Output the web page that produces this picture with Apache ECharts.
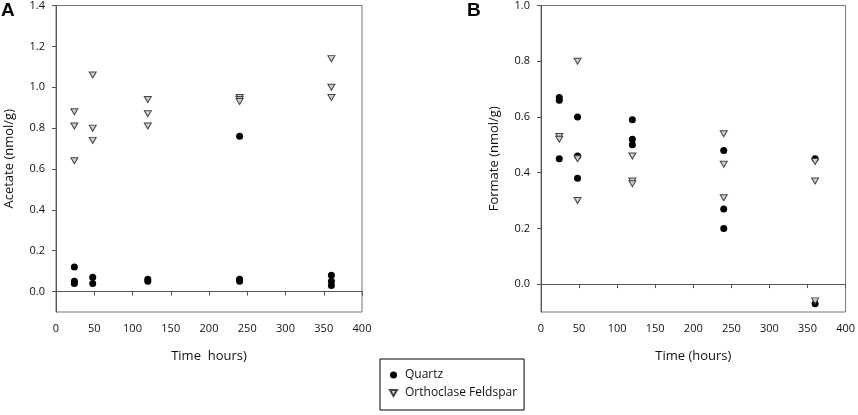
<!DOCTYPE html>
<html>
<head>
<meta charset="utf-8">
<script src="https://cdn.jsdelivr.net/npm/echarts@6/dist/echarts.min.js"></script>
<style>
html,body{margin:0;padding:0;background:#fff;}
#chart{width:858px;height:415px;}
</style>
</head>
<body>
<div id="chart"></div>
<script>
// Sampling times (hours)
const times = [24, 48, 120, 240, 360];
// Panel A: Acetate (nmol/g), replicate values per time
const acetateQuartz = [[0.12, 0.05, 0.04], [0.07, 0.04], [0.06, 0.05], [0.76, 0.06, 0.05], [0.08, 0.05, 0.03]];
const acetateFeldspar = [[0.88, 0.81, 0.64], [1.06, 0.80, 0.74], [0.94, 0.87, 0.81], [0.95, 0.94, 0.93], [1.14, 1.00, 0.95]];
// Panel B: Formate (nmol/g)
const formateQuartz = [[0.67, 0.66, 0.45], [0.60, 0.46, 0.38], [0.59, 0.52, 0.50], [0.48, 0.27, 0.20], [0.45, -0.07]];
const formateFeldspar = [[0.53, 0.52], [0.80, 0.45, 0.30], [0.46, 0.37, 0.36], [0.54, 0.43, 0.31], [0.44, 0.37, -0.06]];
// Tick labels
const xTicks = [0, 50, 100, 150, 200, 250, 300, 350, 400];
const acetateTicks = [0.0, 0.2, 0.4, 0.6, 0.8, 1.0, 1.2, 1.4];
const formateTicks = [0.0, 0.2, 0.4, 0.6, 0.8, 1.0];
const seriesNames = ['Quartz', 'Orthoclase Feldspar'];
const xTitles = ['Time  hours)', 'Time (hours)'];
const yTitles = ['Acetate (nmol/g)', 'Formate (nmol/g)'];

const toPoints = vals => times.flatMap((t, i) => vals[i].map(v => [t, v]));
const triPath = 'path://M0,0L10,0L5,8.7Z';
const FONT = 'Open Sans';
const axisCol = '#555';

function xAxisFor(idx) {
  return {
    type: 'value', gridIndex: idx, min: xTicks[0], max: xTicks[xTicks.length - 1], interval: 50,
    name: xTitles[idx], nameLocation: 'middle', nameGap: 38,
    nameTextStyle: {fontFamily: FONT, fontSize: 13, color: '#111'},
    axisLine: {show: true, lineStyle: {color: axisCol}},
    axisTick: {show: true, inside: false, length: 4, lineStyle: {color: axisCol}},
    axisLabel: {fontFamily: FONT, fontSize: 11, color: '#111', margin: 11},
    splitLine: {show: false}
  };
}
function yAxisFor(idx, ticks, max) {
  return {
    type: 'value', gridIndex: idx, min: -0.1, max: max,
    name: yTitles[idx], nameLocation: 'middle', nameGap: 40,
    nameTextStyle: {fontFamily: FONT, fontSize: 13, color: '#111'},
    axisLine: {show: true, lineStyle: {color: axisCol}},
    axisTick: {show: true, inside: false, length: 4, customValues: ticks, lineStyle: {color: axisCol}},
    axisLabel: {fontFamily: FONT, fontSize: 11, color: '#111', margin: 11, customValues: ticks,
      formatter: v => Number(v).toFixed(1)},
    splitLine: {show: false}
  };
}
function quartzSeries(idx, vals) {
  return {name: seriesNames[0], type: 'scatter', xAxisIndex: idx, yAxisIndex: idx,
    data: toPoints(vals), symbol: 'circle', symbolSize: 7,
    itemStyle: {color: '#000', opacity: 1}, emphasis: {disabled: true}};
}
function feldsparSeries(idx, vals) {
  return {name: seriesNames[1], type: 'scatter', xAxisIndex: idx, yAxisIndex: idx,
    data: toPoints(vals), symbol: triPath, symbolSize: [7, 6],
    itemStyle: {color: '#cfcfcf', borderColor: '#444', borderWidth: 1, opacity: 1}, emphasis: {disabled: true}};
}

const chart = echarts.init(document.getElementById('chart'));
chart.setOption({
  animation: false,
  backgroundColor: '#fff',
  title: [
    {text: 'A', left: 1, top: 1, padding: 0, textStyle: {fontFamily: 'Liberation Sans', fontWeight: 'bold', fontSize: 19, color: '#000'}},
    {text: 'B', left: 467, top: 1, padding: 0, textStyle: {fontFamily: 'Liberation Sans', fontWeight: 'bold', fontSize: 19, color: '#000'}}
  ],
  grid: [
    {left: 56, right: 496, top: 5, bottom: 103, show: true, borderColor: '#777', borderWidth: 1, backgroundColor: 'transparent'},
    {left: 541, right: 11, top: 5, bottom: 103, show: true, borderColor: '#777', borderWidth: 1, backgroundColor: 'transparent'}
  ],
  legend: {
    orient: 'vertical', left: 380, top: 359,
    data: [{name: seriesNames[0], icon: 'circle'}, {name: seriesNames[1], icon: triPath}],
    itemWidth: 7, itemHeight: 7, itemGap: 4,
    padding: [9, 7, 10, 9],
    borderColor: '#000', borderWidth: 1,
    selectedMode: false,
    textStyle: {fontFamily: FONT, fontSize: 12, color: '#111', lineHeight: 14, padding: [0, 0, 0, 3]}
  },
  xAxis: [xAxisFor(0), xAxisFor(1)],
  yAxis: [yAxisFor(0, acetateTicks, 1.4), yAxisFor(1, formateTicks, 1.0)],
  series: [
    quartzSeries(0, acetateQuartz), feldsparSeries(0, acetateFeldspar),
    quartzSeries(1, formateQuartz), feldsparSeries(1, formateFeldspar)
  ]
});
</script>
</body>
</html>
